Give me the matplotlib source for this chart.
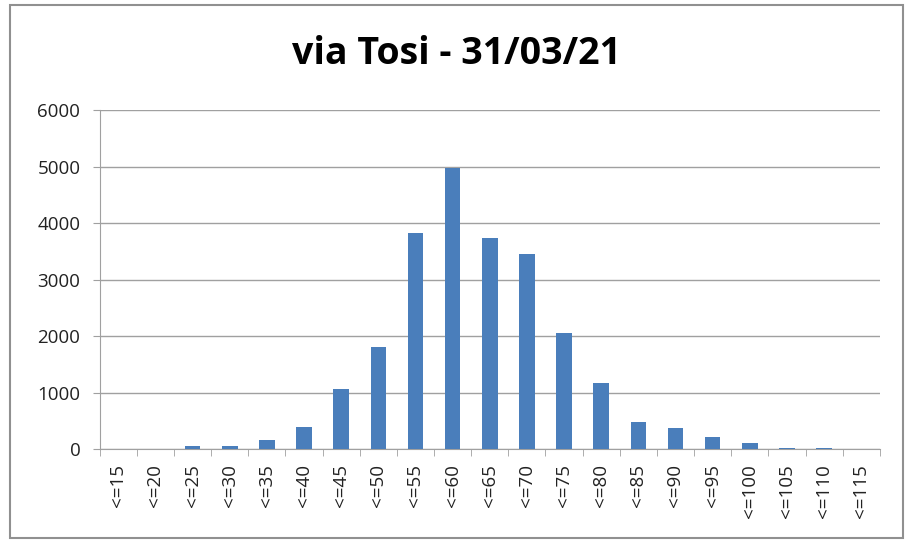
import matplotlib
matplotlib.use("Agg")
import matplotlib.pyplot as plt
from matplotlib.patches import Rectangle
import numpy as np

categories = ["<=15", "<=20", "<=25", "<=30", "<=35", "<=40", "<=45", "<=50", "<=55", "<=60",
              "<=65", "<=70", "<=75", "<=80", "<=85", "<=90", "<=95", "<=100", "<=105", "<=110", "<=115"]
values = [0, 0, 50, 55, 160, 390, 1060, 1800, 3820, 4970,
          3730, 3450, 2060, 1160, 470, 370, 210, 110, 15, 20, 0]
title = "via Tosi - 31/03/21"

plt.rcParams['font.family'] = ['Open Sans', 'DejaVu Sans']

fig = plt.figure(figsize=(9.07, 5.40), dpi=100)
ax = fig.add_axes([0.110, 0.1685, 0.860, 0.6275])

x = np.arange(len(categories))
ax.bar(x, values, width=0.42, color="#4a7ebb", zorder=3)

ax.set_xlim(-0.5, len(categories) - 0.5)
ax.set_ylim(0, 6000)
ax.set_yticks(np.arange(0, 6001, 1000))
ax.yaxis.grid(True, color="#a0a0a0", linewidth=1.0, zorder=0)
ax.set_xticks(x)
ax.set_xticklabels(categories, rotation=90, fontsize=13.5, color="#222222")
ax.tick_params(axis='x', length=0, pad=11)
ax.set_xticks(np.arange(-0.5, len(categories), 1.0), minor=True)
ax.tick_params(axis='x', which='minor', length=5, color="#a0a0a0")
ax.tick_params(axis='y', length=5, color="#a0a0a0", labelsize=13.5, labelcolor="#222222", pad=9)
for s in ['top', 'right']:
    ax.spines[s].set_visible(False)
for s in ['left', 'bottom']:
    ax.spines[s].set_color("#a0a0a0")

fig.text(0.503, 0.90, title, ha='center', va='center', fontsize=27, fontweight='bold')

fig.patches.append(Rectangle((0.011, 0.004), 0.985, 0.987, transform=fig.transFigure,
                             fill=False, edgecolor="#909090", linewidth=1.5))

fig.savefig("out.png", dpi=100)
